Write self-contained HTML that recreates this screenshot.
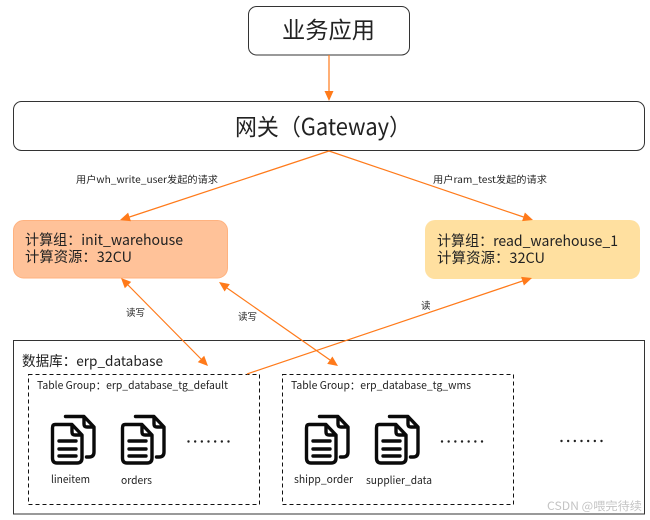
<!DOCTYPE html>
<html><head><meta charset="utf-8"><style>
html,body{margin:0;padding:0;background:#fff}
svg{display:block}
text{font-family:"Noto Sans CJK SC","Liberation Sans",sans-serif;fill:#222}
</style></head><body>
<svg width="650" height="520" viewBox="0 0 650 520" xmlns="http://www.w3.org/2000/svg">
<defs>
<g id="doc" fill="none" stroke="#0a0a0a" stroke-width="3.400" stroke-linecap="round" stroke-linejoin="round">
<path d="M65.500 416.500H84L94 427V452Q94 457 89 457H86.500"/>
<path d="M84 417V424Q84 427 87 427H93"/>
<path d="M55 424.500H72L82 435V458Q82 463 77 463H57Q52.500 463 52.500 458V428Q52.500 424.500 55 424.500Z"/>
<path d="M72 425V432Q72 435 75 435H81"/>
<path d="M59 441H76M59 449H76M59 456H76"/>
</g>
<g id="dots" fill="#222">
<circle cx="0" cy="0" r="1.200"/><circle cx="6.670" cy="0" r="1.200"/><circle cx="13.330" cy="0" r="1.200"/><circle cx="20" cy="0" r="1.200"/><circle cx="26.670" cy="0" r="1.200"/><circle cx="33.330" cy="0" r="1.200"/><circle cx="40" cy="0" r="1.200"/>
</g>
</defs>

<rect x="248.500" y="6.500" width="161" height="48.500" rx="8" fill="#fff" stroke="#333"/>
<text x="282" y="38" font-size="23" textLength="93" lengthAdjust="spacingAndGlyphs">业务应用</text>

<rect x="13.500" y="101.500" width="631" height="49" rx="8" fill="#fff" stroke="#333"/>
<text x="235" y="135" font-size="23" textLength="176" lengthAdjust="spacingAndGlyphs">网关（Gateway）</text>

<rect x="13.500" y="220.500" width="214" height="57.500" rx="10" fill="#ffc299" stroke="#ffb27f"/>
<text x="25" y="245" font-size="14.500" textLength="158" lengthAdjust="spacingAndGlyphs">计算组：init_warehouse</text>
<text x="25" y="262" font-size="14.500" textLength="107" lengthAdjust="spacingAndGlyphs">计算资源：32CU</text>

<rect x="425" y="220" width="215" height="59" rx="10" fill="#ffe0a0"/>
<text x="437" y="246" font-size="14.500" textLength="181" lengthAdjust="spacingAndGlyphs">计算组：read_warehouse_1</text>
<text x="437" y="263" font-size="14.500" textLength="108" lengthAdjust="spacingAndGlyphs">计算资源：32CU</text>

<rect x="13.500" y="340.500" width="631" height="173.500" fill="none" stroke="#333"/>
<text x="22" y="366" font-size="14" textLength="141" lengthAdjust="spacingAndGlyphs">数据库：erp_database</text>

<rect x="28.500" y="374.500" width="231" height="130" fill="none" stroke="#111" stroke-dasharray="4 3"/>
<rect x="282.500" y="374.500" width="231" height="130" fill="none" stroke="#111" stroke-dasharray="4 3"/>
<text x="37" y="389" font-size="10.500" textLength="191" lengthAdjust="spacingAndGlyphs">Table Group：erp_database_tg_default</text>
<text x="291" y="389" font-size="10.500" textLength="180" lengthAdjust="spacingAndGlyphs">Table Group：erp_database_tg_wms</text>

<use href="#doc"/>
<use href="#doc" x="70"/>
<use href="#doc" x="254"/>
<use href="#doc" x="324"/>

<text x="51" y="483" font-size="10.500" textLength="39" lengthAdjust="spacingAndGlyphs">lineitem</text>
<text x="121" y="484" font-size="10.500" textLength="31" lengthAdjust="spacingAndGlyphs">orders</text>
<text x="294" y="483" font-size="10.500" textLength="59" lengthAdjust="spacingAndGlyphs">shipp_order</text>
<text x="366" y="484" font-size="10.500" textLength="66" lengthAdjust="spacingAndGlyphs">supplier_data</text>

<use href="#dots" x="188.500" y="441.500"/>
<use href="#dots" x="442" y="441.500"/>
<use href="#dots" x="561.500" y="441"/>

<g stroke="#ff7a1a" stroke-width="1.200" fill="none">
<path d="M329 55V92"/>
<path d="M329 151L129.500 217"/>
<path d="M329 151L523.500 217"/>
<path d="M128 285L201 359"/>
<path d="M227 288L330 360"/>
<path d="M247 374L522.500 281"/>
</g>
<g fill="#ff7a1a">
<path d="M329 101L324.500 91H333.500Z"/>
<path d="M120 220L130.900 221.200L128.100 212.600Z"/>
<path d="M533 220L522.100 221.100L524.900 212.500Z"/>
<path d="M121 278L131.200 281.900L124.800 288.300Z"/>
<path d="M208 366L204.200 355.700L197.800 362.100Z"/>
<path d="M219 282L229.800 284.100L224.600 291.500Z"/>
<path d="M338 366L332.400 356.500L327.200 363.900Z"/>
<path d="M532 278L523.900 285.500L521.100 276.900Z"/>
</g>

<text x="76" y="183" font-size="9.500" textLength="142" lengthAdjust="spacingAndGlyphs">用户wh_write_user发起的请求</text>
<text x="433" y="183" font-size="9.500" textLength="114" lengthAdjust="spacingAndGlyphs">用户ram_test发起的请求</text>
<text x="126" y="316" font-size="9.500">读写</text>
<text x="238" y="320" font-size="9.500">读写</text>
<text x="421" y="309" font-size="9.500">读</text>

<text x="547" y="510" font-size="11.500" textLength="95" lengthAdjust="spacingAndGlyphs" style="fill:#c4c4c4">CSDN @喂完待续</text>
</svg>
</body></html>
